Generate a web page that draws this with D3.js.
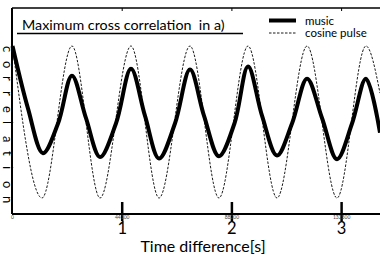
<!DOCTYPE html>
<html>
<head>
<meta charset="utf-8">
<script src="https://cdn.jsdelivr.net/npm/d3@7"></script>
<style>
  body { margin: 0; background: #fff; }
  svg { display: block; font-family: Lato, "Open Sans", sans-serif; }
</style>
</head>
<body>
<svg width="380" height="257"></svg>
<script>
// lag (s) and correlation
const musicT = [0, 0.141, 0.278, 0.415, 0.542, 0.670, 0.798, 0.943, 1.080, 1.208, 1.336, 1.481, 1.618,
                1.746, 1.882, 2.023, 2.147, 2.275, 2.411, 2.548, 2.685, 2.822, 2.958, 3.095, 3.222, 3.350];
const musicV = [1.0, 0.18, -0.41, -0.02, 0.61, 0.05, -0.46, -0.02, 0.70, 0.08, -0.48, -0.02, 0.69,
                0.08, -0.45, -0.02, 0.73, 0.08, -0.44, -0.02, 0.57, 0.05, -0.49, -0.02, 0.57, -0.14];
const pulseT = [0, 0.269, 0.542, 0.798, 1.080, 1.336, 1.618, 1.882, 2.147, 2.411, 2.685, 2.958, 3.222, 3.350];
const pulseV = [1.0, -1.0, 1.0, -1.0, 1.0, -1.0, 1.0, -1.0, 1.0, -1.0, 1.0, -1.0, 1.0, 0.38];

const tickVals = [1, 2, 3];
const sampleLabels = ["0", "44100", "88200", "132300"];
const sampleAt = [0, 1, 2, 3];
const yLabel = "correlation".split("");
const legendNames = ["music", "cosine pulse"];

const svg = d3.select("svg");

const x = d3.scaleLinear().domain([0, 3.35]).range([12.5, 380]);
const y = d3.scaleLinear().domain([-1, 1]).range([198, 46]);

const line = d3.line()
    .x(d => x(d[0]))
    .y(d => y(d[1]))
    .curve(d3.curveCatmullRom.alpha(0.5));

const pulseLine = d3.line()
    .x(d => x(d[0]))
    .y(d => y(d[1]))
    .curve(d3.curveMonotoneX);

// dashed cosine pulse
svg.append("path")
    .datum(pulseT.map((t, i) => [t, pulseV[i]]))
    .attr("d", pulseLine)
    .attr("fill", "none")
    .attr("stroke", "#000")
    .attr("stroke-width", 0.9)
    .attr("stroke-dasharray", "2.5,1.5");

// music, thick
svg.append("path")
    .datum(musicT.map((t, i) => [t, musicV[i]]))
    .attr("d", line)
    .attr("fill", "none")
    .attr("stroke", "#000")
    .attr("stroke-width", 4)
    .attr("stroke-linejoin", "round");

// frame: left, bottom, top
svg.append("line").attr("x1", 12).attr("x2", 12).attr("y1", 8).attr("y2", 214)
    .attr("stroke", "#000").attr("stroke-width", 2);
svg.append("line").attr("x1", 12).attr("x2", 380).attr("y1", 214).attr("y2", 214)
    .attr("stroke", "#000").attr("stroke-width", 2);
svg.append("line").attr("x1", 12).attr("x2", 380).attr("y1", 8).attr("y2", 8)
    .attr("stroke", "#000").attr("stroke-width", 1.5);

// bottom ticks
svg.selectAll(".btick").data(tickVals).enter().append("line")
    .attr("x1", d => x(d)).attr("x2", d => x(d))
    .attr("y1", 202).attr("y2", 221)
    .attr("stroke", "#000").attr("stroke-width", 2.5);
// top ticks
svg.selectAll(".ttick").data(tickVals).enter().append("line")
    .attr("x1", d => x(d)).attr("x2", d => x(d))
    .attr("y1", 8).attr("y2", 11)
    .attr("stroke", "#000").attr("stroke-width", 1);

// tiny sample-index labels
svg.selectAll(".slab").data(sampleAt).enter().append("text")
    .attr("x", d => x(d)).attr("y", 218.5)
    .attr("text-anchor", "middle")
    .attr("font-size", 5).attr("fill", "#444")
    .text((d, i) => sampleLabels[i]);

// tick labels
svg.selectAll(".tlab").data(tickVals).enter().append("text")
    .attr("x", d => x(d)).attr("y", 234)
    .attr("text-anchor", "middle")
    .attr("font-size", 16.5)
    .text(d => d);

svg.append("text")
    .attr("x", 203).attr("y", 252)
    .attr("text-anchor", "middle")
    .attr("font-size", 16)
    .text("Time difference[s]");

// y label, one rotated glyph per step
svg.selectAll(".ylab").data(yLabel).enter().append("text")
    .attr("transform", (d, i) => `translate(2.5, ${46 + i * 15}) rotate(90)`)
    .attr("font-size", 13)
    .text(d => d);

// title with underline
svg.append("text")
    .attr("x", 22).attr("y", 30)
    .attr("font-size", 14.3)
    .attr("xml:space", "preserve")
    .text("Maximum cross correlation  in a)");
svg.append("line").attr("x1", 17).attr("x2", 243).attr("y1", 33.5).attr("y2", 33.5)
    .attr("stroke", "#000").attr("stroke-width", 1.5);

// legend
const leg = svg.selectAll(".leg").data(legendNames).enter().append("g")
    .attr("transform", (d, i) => `translate(269, ${20.5 + i * 12.5})`);
leg.append("line")
    .attr("x1", 0).attr("x2", 27)
    .attr("stroke", "#000")
    .attr("stroke-width", (d, i) => i === 0 ? 4 : 0.9)
    .attr("stroke-dasharray", (d, i) => i === 0 ? null : "2.5,1.5");
leg.append("text")
    .attr("x", 36).attr("y", 4)
    .attr("font-size", 11.5)
    .text(d => d);
</script>
</body>
</html>
